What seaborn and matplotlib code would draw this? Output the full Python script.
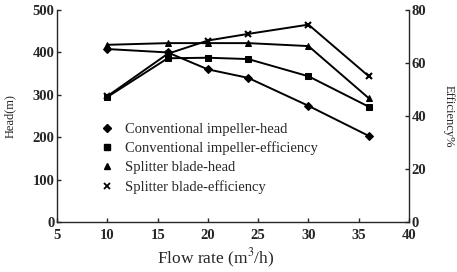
import matplotlib
matplotlib.use("Agg")
import matplotlib.pyplot as plt
import numpy as np
import pandas as pd
import seaborn as sns
from matplotlib.lines import Line2D

# flow rate (m3/h)
flow = [10, 16, 20, 24, 30, 36]
# head (m)
conv_head = [408, 400, 360, 340, 274, 203]
split_head = [418, 422, 422, 422, 415, 292]
# efficiency (%)
conv_eff = [47.2, 61.8, 62.0, 61.5, 55.0, 43.5]
split_eff = [47.5, 63.5, 68.5, 71.0, 74.5, 55.0]

labels = ["Conventional impeller-head", "Conventional impeller-efficiency",
          "Splitter blade-head", "Splitter blade-efficiency"]

sns.set_style("ticks")
plt.rcParams['font.family'] = ['Liberation Serif', 'DejaVu Serif']
plt.rcParams['mathtext.fontset'] = 'stix'

fig = plt.figure(figsize=(4.57, 2.72), dpi=100)
ax = fig.add_axes([0.125, 0.184, 0.77, 0.779])
ax2 = ax.twinx()

df_h = pd.DataFrame({"flow": flow, "conv": conv_head, "split": split_head})
df_e = pd.DataFrame({"flow": flow, "conv": conv_eff, "split": split_eff})

kw = dict(color="black", linewidth=1.4, markeredgecolor="black", markersize=5)
sns.lineplot(data=df_h, x="flow", y="conv", ax=ax, marker="D", markersize=4,
             color="black", linewidth=1.4, markeredgecolor="black")
sns.lineplot(data=df_h, x="flow", y="split", ax=ax, marker="^", **kw)
sns.lineplot(data=df_e, x="flow", y="conv", ax=ax2, marker="s", **kw)
sns.lineplot(data=df_e, x="flow", y="split", ax=ax2, marker="x",
             markeredgewidth=1.5, **kw)

ax.set_xlim(5, 40)
ax.set_ylim(0, 500)
ax2.set_ylim(0, 80)
ax.set_xticks(np.arange(5, 41, 5))
ax.set_yticks(np.arange(0, 501, 100))
ax2.set_yticks(np.arange(0, 81, 20))

ax.set_xlabel("Flow rate (m$^3$/h)", fontsize=12.5)
ax.xaxis.set_label_coords(0.45, -0.115, transform=ax.transAxes)
ax.xaxis.label.set_va("top")
ax.set_ylabel("Head(m)", fontsize=9, labelpad=12)
ax2.set_ylabel("Efficiency%", fontsize=9, rotation=270, labelpad=20)

for a in (ax, ax2):
    a.spines["top"].set_visible(False)
    a.tick_params(direction="in", length=3, width=1, labelsize=10.5, pad=2)
    for t in a.get_xticklabels() + a.get_yticklabels():
        t.set_fontweight("bold")
    for s in a.spines.values():
        s.set_linewidth(1.0)
ax.tick_params(axis="x", pad=5)
ax.spines["right"].set_visible(False)
ax2.spines["left"].set_visible(False)
ax2.spines["bottom"].set_visible(False)

# legend with markers only
handles = [Line2D([], [], color="black", marker=m, linestyle="none",
                  markersize=ms, markeredgewidth=mew)
           for m, ms, mew in [("D", 4, 1), ("s", 5, 1), ("^", 5, 1), ("x", 4, 1.3)]]
ax.legend(handles, labels, loc="lower left", bbox_to_anchor=(0.08, 0.07),
          frameon=False, fontsize=10.5, handlelength=1.2, handletextpad=0.6,
          labelspacing=0.4)

fig.savefig("out.png", dpi=100)
